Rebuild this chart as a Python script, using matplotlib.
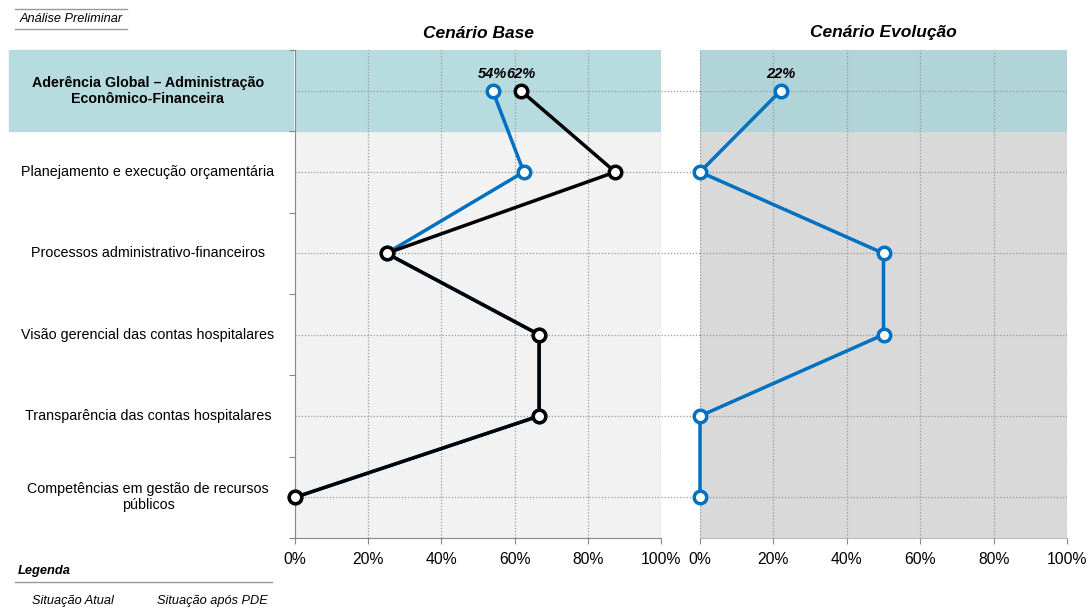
import matplotlib
matplotlib.use("Agg")
import matplotlib.pyplot as plt
from matplotlib.patches import Rectangle
import numpy as np

plt.rcParams['font.family'] = ['Liberation Sans', 'DejaVu Sans']

categorias = [
    "Aderência Global – Administração\nEconômico-Financeira",
    "Planejamento e execução orçamentária",
    "Processos administrativo-financeiros",
    "Visão gerencial das contas hospitalares",
    "Transparência das contas hospitalares",
    "Competências em gestão de recursos\npúblicos",
]
base_atual = [61.7, 87.5, 25.0, 66.7, 66.7, 0.0]
base_pde = [54.0, 62.5, 25.0, 66.7, 66.7, 0.0]
evolucao_pde = [22.0, 0.0, 50.0, 50.0, 0.0, 0.0]
rotulos_base = {"pde": "54%", "atual": "62%"}
rotulo_evolucao = "22%"

AZUL = "#0070c0"
W, H = 1088, 609
fig = plt.figure(figsize=(W / 100, H / 100), dpi=100)

def fx(px):
    return px / W

def fy(py):
    return 1 - py / H

ax1 = fig.add_axes([fx(295), fy(538), fx(661) - fx(295), fy(50) - fy(538)])
ax2 = fig.add_axes([fx(700), fy(538), fx(1067) - fx(700), fy(50) - fy(538)])

y = np.arange(len(categorias))

for ax, bg, top in [(ax1, "#f2f2f2", "#b7dcdf"), (ax2, "#d9d9d9", "#b0d4d7")]:
    ax.set_facecolor(bg)
    ax.axhspan(-0.5, 0.5, color=top, zorder=0)
    ax.set_xlim(0, 100)
    ax.set_ylim(len(categorias) - 0.5, -0.5)
    ax.set_xticks(np.arange(0, 101, 20))
    ax.set_xticklabels([f"{v}%" for v in range(0, 101, 20)], fontsize=11.3)
    for v in range(0, 101, 20):
        ax.axvline(v, color="#999999", ls=(0, (1, 1.5)), lw=0.9, zorder=1)
    for yy in y:
        ax.axhline(yy, color="#999999", ls=(0, (1, 1.5)), lw=0.9, zorder=1)
    for s in ["top", "right"]:
        ax.spines[s].set_visible(False)
    ax.tick_params(axis="x", length=4, color="#888888", pad=6)

ax1.spines["left"].set_color("#888888")
ax1.spines["bottom"].set_color("#888888")
ax1.set_yticks(np.arange(-0.5, len(categorias), 1))
ax1.set_yticklabels([])
ax1.tick_params(axis="y", length=4, color="#888888")
ax2.spines["left"].set_visible(False)
ax2.spines["bottom"].set_color("#bbbbbb")
ax2.set_yticks([])

# grid lines continuing through the gap between the panels
for yy in y:
    ax1.plot([100, 110.7], [yy, yy], color="#999999", ls=(0, (1, 1.5)), lw=0.9,
             clip_on=False, zorder=1)

mk = dict(marker="o", markersize=9, markerfacecolor="white", markeredgewidth=2.5,
          lw=2.5, clip_on=False, zorder=4)
ax1.plot(base_pde, y, color=AZUL, **mk)
ax1.plot(base_atual, y, color="black", **mk)
ax2.plot(evolucao_pde, y, color=AZUL, **mk)

lab = dict(textcoords="offset points", ha="center", va="bottom", fontsize=10.5,
           fontweight="bold", fontstyle="italic", xytext=(0, 7))
ax1.annotate(rotulos_base["pde"], (base_pde[0], 0), **lab)
ax1.annotate(rotulos_base["atual"], (base_atual[0], 0), **lab)
ax2.annotate(rotulo_evolucao, (evolucao_pde[0], 0), **lab)

ax1.set_title("Cenário Base", fontsize=12.5, fontweight="bold", fontstyle="italic", pad=9)
ax2.set_title("Cenário Evolução", fontsize=12.5, fontweight="bold", fontstyle="italic", pad=9)

# category labels and the highlighted first row
fig.patches.append(Rectangle((fx(9), fy(131)), fx(293) - fx(9), fy(50) - fy(131),
                             transform=fig.transFigure, color="#b7dcdf", zorder=-1))
tr = ax1.get_yaxis_transform()
for i, c in enumerate(categorias):
    ax1.text((148 - 295) / 366, i, c, transform=tr, ha="center", va="center",
             fontsize=10.3, fontweight="bold" if i == 0 else "normal", clip_on=False)

# header and legend
fig.text(fx(20), fy(19), "Análise Preliminar", fontsize=9.2, fontstyle="italic", va="center")
fig.add_artist(plt.Line2D([fx(15), fx(127)], [fy(9), fy(9)], color="#999999", lw=1))
fig.add_artist(plt.Line2D([fx(15), fx(127)], [fy(29), fy(29)], color="#999999", lw=1))
fig.text(fx(18), fy(571), "Legenda", fontsize=9.3, fontweight="bold", fontstyle="italic", va="center")
fig.add_artist(plt.Line2D([fx(15), fx(272)], [fy(582), fy(582)], color="#999999", lw=1))
fig.text(fx(32), fy(601), "Situação Atual", fontsize=9.2, fontstyle="italic", va="center")
fig.text(fx(157), fy(601), "Situação após PDE", fontsize=9.2, fontstyle="italic", va="center")

fig.savefig("out.png", dpi=100)
